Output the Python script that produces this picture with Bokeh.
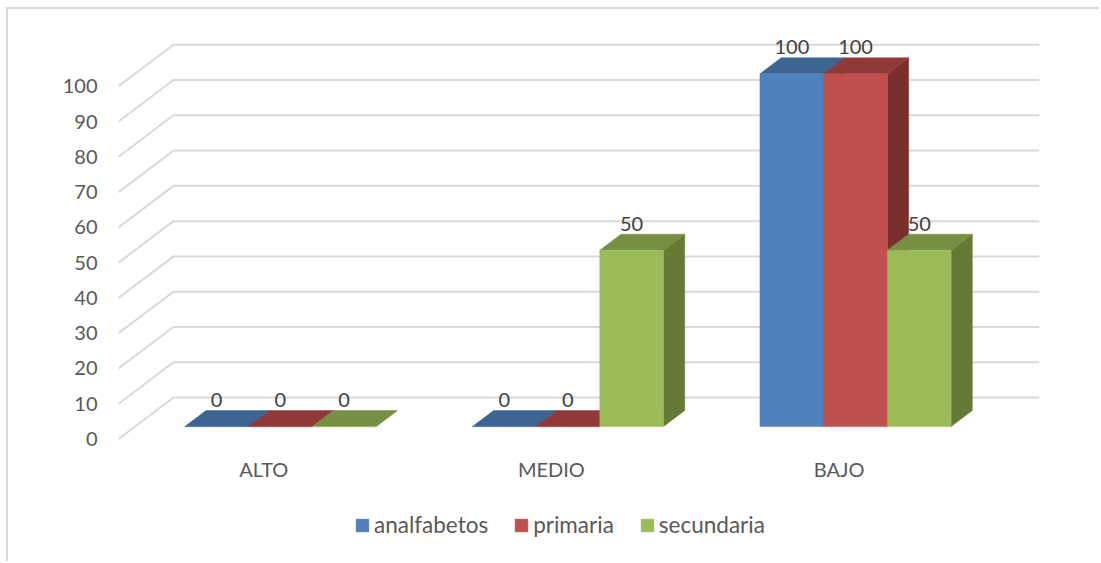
from bokeh.plotting import figure
from bokeh.models import Legend, LegendItem, Range1d, FixedTicker
from bokeh.core.properties import value
from bokeh.embed import file_html
from bokeh.resources import INLINE

categories = ["ALTO", "MEDIO", "BAJO"]
analfabetos = [0, 0, 100]
primaria = [0, 0, 100]
secundaria = [0, 50, 50]
series_names = ["analfabetos", "primaria", "secundaria"]
y_ticks = [0, 10, 20, 30, 40, 50, 60, 70, 80, 90, 100]

FONT = "Lato"
FS = "20px"
LEGEND_FS = "22.5px"
front_col = ["#4f81bd", "#c0504d", "#9bbb59"]
top_col = ["#3e6491", "#8f3a38", "#778f42"]
side_col = ["#34547a", "#7b2f2d", "#657a36"]

W, H = 1093, 554
PX_X = 287.6   # px per category
PX_Y = 3.528   # px per unit
DX = 55 / PX_X      # oblique shift, whole floor depth, in x units
DY = 41.5 / PX_Y    # oblique shift, whole floor depth, in y units
BAR_W = 63.7 / PX_X
D_FRONT, D_BACK = 0.3, 0.686
FRAME_H = 509
Y_END = 115.8

p = figure(width=W, height=H, output_backend="svg", toolbar_location=None,
           x_range=Range1d(-0.0052, 3.197), y_range=Range1d(Y_END - FRAME_H / PX_Y, Y_END),
           min_border_left=110, min_border_right=W - 1031, min_border_top=21, min_border_bottom=H - 21 - FRAME_H,
           outline_line_color=None, background_fill_color="white", border_fill_color="white",
           styles={"border-left": "2px solid #d9d9d9", "border-top": "2px solid #d9d9d9",
                   "margin-left": "6px", "margin-top": "7px"})
p.grid.visible = False

x0, x1 = p.x_range.start, p.x_range.end
gx = [[x0, x0 + DX, x1] for _ in y_ticks]
gy = [[v, v + DY, v + DY] for v in y_ticks]
p.multi_line(gx, gy, line_color="#d9d9d9", line_width=2)

legend_items = []
for s, vals in enumerate([analfabetos, primaria, secundaria]):
    lefts = [i + 0.5 + (s - 1.5) * BAR_W + D_FRONT * DX for i in range(3)]
    rights = [l + BAR_W for l in lefts]
    d = (D_BACK - D_FRONT)
    base = D_FRONT * DY
    top_x, top_y, side_x, side_y = [], [], [], []
    for l, r, v in zip(lefts, rights, vals):
        t = v + base
        top_x.append([l, r, r + d * DX, l + d * DX])
        top_y.append([t, t, t + d * DY, t + d * DY])
        side_x.append([r, r + d * DX, r + d * DX, r])
        side_y.append([base, base + d * DY, t + d * DY, t])
    p.patches(side_x, side_y, fill_color=side_col[s], line_color=side_col[s], line_width=0.5)
    p.patches(top_x, top_y, fill_color=top_col[s], line_color=top_col[s], line_width=0.5)
    r_front = p.quad(left=lefts, right=rights, bottom=[base] * 3, top=[v + base for v in vals],
                     fill_color=front_col[s], line_color=front_col[s], line_width=0.5)
    legend_items.append(LegendItem(label=value(series_names[s]), renderers=[r_front]))

for s, vals in enumerate([analfabetos, primaria, secundaria]):
    cx = [i + 0.5 + (s - 1) * BAR_W + D_FRONT * DX for i in range(3)]
    ly = [v + D_FRONT * DY for v in vals]
    p.text(cx, ly, text=[str(v) for v in vals], text_font=value(FONT), text_font_size=FS,
           text_color="#404040", text_align="center", text_baseline="middle", y_offset=-26.5)

p.xaxis.ticker = FixedTicker(ticks=[0.5, 1.5, 2.5])
p.xaxis.major_label_overrides = {0.5: categories[0], 1.5: categories[1], 2.5: categories[2]}
p.xaxis.fixed_location = -5.2
p.yaxis.ticker = FixedTicker(ticks=y_ticks)
for ax in (p.xaxis[0], p.yaxis[0]):
    ax.axis_line_color = None
    ax.major_tick_line_color = None
    ax.minor_tick_line_color = None
    ax.major_tick_out = 0
    ax.major_tick_in = 0
    ax.major_label_text_font = FONT
    ax.major_label_text_font_size = FS
    ax.major_label_text_color = "#595959"
p.yaxis.major_label_standoff = 21
p.xaxis.major_label_standoff = 0

legend = Legend(items=legend_items, orientation="horizontal", location=(236, 1),
                glyph_width=16, glyph_height=16, label_standoff=4, spacing=25, margin=0, padding=0,
                border_line_color=None, background_fill_alpha=0,
                label_text_font=FONT, label_text_font_size=LEGEND_FS, label_text_color="#595959")
p.add_layout(legend, "center")

open("out.html", "w").write(file_html(p, INLINE))
